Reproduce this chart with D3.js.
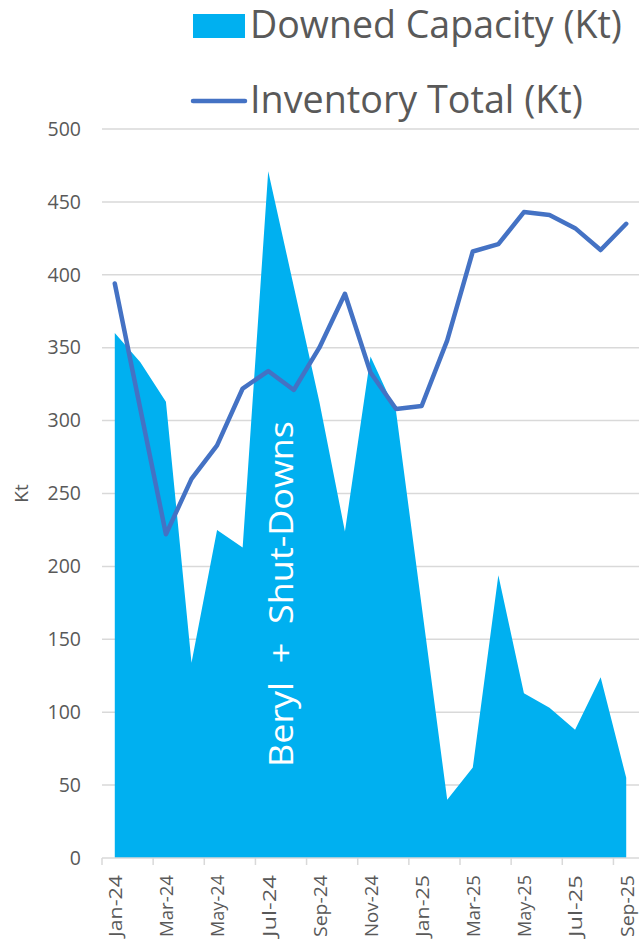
<!DOCTYPE html>
<html>
<head>
<meta charset="utf-8">
<script src="https://cdn.jsdelivr.net/npm/d3@7"></script>
<style>
  body { margin: 0; background: #fff; }
  svg { display: block; font-family: 'Open Sans', sans-serif; }
</style>
</head>
<body>
<div id="chart"></div>
<script>
var months = ['Jan-24', 'Feb-24', 'Mar-24', 'Apr-24', 'May-24', 'Jun-24', 'Jul-24',
  'Aug-24', 'Sep-24', 'Oct-24', 'Nov-24', 'Dec-24', 'Jan-25', 'Feb-25', 'Mar-25',
  'Apr-25', 'May-25', 'Jun-25', 'Jul-25', 'Aug-25', 'Sep-25'];
var downedCapacity = [360, 340, 313, 134, 225, 213, 471, 392, 313, 224, 344, 306,
  173, 40, 62, 194, 113, 103, 88, 124, 55];
var inventoryTotal = [394, 308, 222, 260, 283, 322, 334, 321, 350, 387, 333, 308,
  310, 355, 416, 421, 443, 441, 432, 417, 435];
var yTickValues = [0, 50, 100, 150, 200, 250, 300, 350, 400, 450, 500];
var xLabelMonths = ['Jan-24', 'Mar-24', 'May-24', 'Jul-24', 'Sep-24', 'Nov-24',
  'Jan-25', 'Mar-25', 'May-25', 'Jul-25', 'Sep-25'];
var seriesNames = ['Downed Capacity (Kt)', 'Inventory Total (Kt)'];
var annotation = 'Beryl  +  Shut-Downs';

(function() {
  'use strict';

  var width = 639;
  var height = 944;
  var plotLeft = 102;
  var plotRight = 639;
  var plotTop = 129;
  var plotBottom = 858;

  var textColor = '#595959';
  var gridColor = '#d9d9d9';
  var areaColor = '#00b0f0';
  var lineColor = '#4472c4';

  var rows = months.map(function(m, i) {
    return { month: m, downed: downedCapacity[i], inventory: inventoryTotal[i] };
  });

  var x = d3.scaleBand().domain(months).range([plotLeft, plotRight]).paddingInner(0).paddingOuter(0);
  var y = d3.scaleLinear().domain([0, 500]).range([plotBottom, plotTop]);
  function cx(d) { return x(d.month) + x.bandwidth() / 2; }

  var svg = d3.select('#chart').append('svg')
    .attr('width', width)
    .attr('height', height);

  // scale a text's font size so that it spans the given length
  function fitText(sel, target) {
    var fs = parseFloat(sel.attr('font-size'));
    var len = sel.node().getComputedTextLength();
    if (len > 0) sel.attr('font-size', (fs * target / len).toFixed(2));
  }

  // gridlines
  svg.append('g')
    .selectAll('line')
    .data(yTickValues.filter(function(v) { return v > 0; }))
    .enter().append('line')
    .attr('x1', plotLeft)
    .attr('x2', plotRight)
    .attr('y1', function(v) { return y(v); })
    .attr('y2', function(v) { return y(v); })
    .attr('stroke', gridColor)
    .attr('stroke-width', 1.5);

  // y axis labels
  var yAxis = d3.axisLeft(y).tickValues(yTickValues).tickSize(0).tickPadding(21);
  var yAxisG = svg.append('g')
    .attr('transform', 'translate(' + plotLeft + ',0)')
    .call(yAxis);
  yAxisG.select('.domain').remove();
  yAxisG.selectAll('text')
    .attr('font-size', 19.5)
    .attr('font-family', "'Open Sans', sans-serif")
    .attr('fill', textColor);

  svg.append('text')
    .attr('transform', 'translate(28,' + y(250) + ') rotate(-90)')
    .attr('text-anchor', 'middle')
    .attr('font-size', 19)
    .attr('fill', textColor)
    .text('Kt');

  // downed capacity area
  var area = d3.area()
    .x(cx)
    .y0(y(0))
    .y1(function(d) { return y(d.downed); });
  svg.append('path')
    .datum(rows)
    .attr('d', area)
    .attr('fill', areaColor);

  // x axis
  svg.append('line')
    .attr('x1', plotLeft)
    .attr('x2', plotRight)
    .attr('y1', y(0))
    .attr('y2', y(0))
    .attr('stroke', gridColor)
    .attr('stroke-width', 1.5);

  svg.append('g')
    .selectAll('line')
    .data(xLabelMonths)
    .enter().append('line')
    .attr('x1', function(m) { return x(m); })
    .attr('x2', function(m) { return x(m); })
    .attr('y1', y(0))
    .attr('y2', y(0) + 7)
    .attr('stroke', gridColor)
    .attr('stroke-width', 1.5);

  svg.append('g')
    .selectAll('text')
    .data(xLabelMonths)
    .enter().append('text')
    .attr('transform', function(m) {
      return 'translate(' + (x(m) + x.bandwidth() / 2 + 1) + ',' + (y(0) + 17) + ') rotate(-90)';
    })
    .attr('text-anchor', 'end')
    .attr('dy', '0.36em')
    .attr('font-size', 17.5)
    .attr('fill', textColor)
    .attr('textLength', 62)
    .attr('lengthAdjust', 'spacingAndGlyphs')
    .text(function(m) { return m; });

  // annotation
  svg.append('text')
    .attr('transform', 'translate(293,594) rotate(-90)')
    .attr('text-anchor', 'middle')
    .attr('font-size', 32)
    .attr('fill', '#ffffff')
    .style('white-space', 'pre')
    .attr('textLength', 346)
    .attr('lengthAdjust', 'spacingAndGlyphs')
    .text(annotation);

  // inventory line
  var line = d3.line()
    .x(cx)
    .y(function(d) { return y(d.inventory); });
  svg.append('path')
    .datum(rows)
    .attr('d', line)
    .attr('fill', 'none')
    .attr('stroke', lineColor)
    .attr('stroke-width', 4.5)
    .attr('stroke-linejoin', 'round')
    .attr('stroke-linecap', 'round');

  // legend
  var legend = svg.append('g');
  legend.append('rect')
    .attr('x', 193)
    .attr('y', 14)
    .attr('width', 52)
    .attr('height', 24)
    .attr('fill', areaColor);
  var l1 = legend.append('text')
    .attr('x', 250)
    .attr('y', 38)
    .attr('font-size', 36)
    .attr('fill', textColor)
    .text(seriesNames[0]);
  fitText(l1, 372);

  legend.append('line')
    .attr('x1', 193)
    .attr('x2', 245)
    .attr('y1', 101)
    .attr('y2', 101)
    .attr('stroke', lineColor)
    .attr('stroke-width', 4.5)
    .attr('stroke-linecap', 'round');
  var l2 = legend.append('text')
    .attr('x', 250)
    .attr('y', 113)
    .attr('font-size', 36)
    .attr('fill', textColor)
    .text(seriesNames[1]);
  fitText(l2, 333);
}());
</script>
</body>
</html>
